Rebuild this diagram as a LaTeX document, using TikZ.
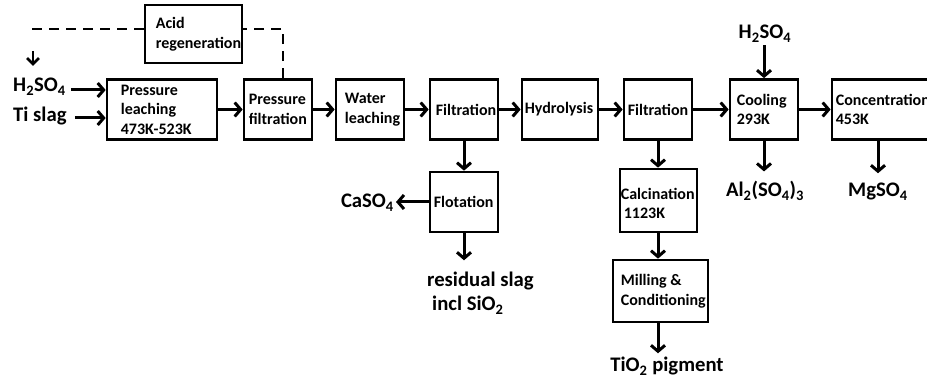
\documentclass[tikz,border=0pt]{standalone}
\usepackage{fontspec}
\setmainfont{Carlito}
\usetikzlibrary{arrows.meta}
\begin{document}
\begin{tikzpicture}[x=1pt,y=-1pt,
  box/.style={draw, line width=2.7pt, rectangle, inner sep=0pt},
  txt/.style={font=\fontsize{16}{19.5}\selectfont\bfseries, align=left, inner sep=0pt, anchor=west},
  lab/.style={font=\fontsize{20.7}{24}\selectfont\bfseries, inner sep=0pt},
  arr/.style={line width=3pt, -{Straight Barb[length=6pt,width=14pt]}},
  dsh/.style={line width=2.8pt, dash pattern=on 10pt off 7pt}
]
\useasboundingbox (0,0) rectangle (927,387);
\clip (0,0) rectangle (927,387);

% boxes
\node[box, minimum width=97pt, minimum height=58pt] (acid) at (193.5,34) {};
\node[txt] (acidt) at ([xshift=12pt]acid.west) {Acid\\regeneration};
\node[box, minimum width=110pt, minimum height=60pt] (pl) at (162,109.5) {};
\node[txt] (plt) at ([xshift=15pt]pl.west) {Pressure\\leaching\\473K-523K};
\node[box, minimum width=68pt, minimum height=60pt] (pf) at (278,109.5) {};
\node[txt] (pft) at ([xshift=6pt]pf.west) {Pressure\\filtration};
\node[box, minimum width=68pt, minimum height=60pt] (wl) at (370,109.5) {};
\node[txt] (wlt) at ([xshift=10pt]wl.west) {Water\\leaching};
\node[box, minimum width=68pt, minimum height=60pt] (f1) at (464,109.5) {};
\node[txt] (f1t) at ([xshift=7pt]f1.west) {Filtration};
\node[box, minimum width=76pt, minimum height=60pt] (hy) at (560,109.5) {};
\node[txt] (hyt) at ([xshift=4pt]hy.west) {Hydrolysis};
\node[box, minimum width=68pt, minimum height=60pt] (f2) at (658,109.5) {};
\node[txt] (f2t) at ([xshift=5pt]f2.west) {Filtration};
\node[box, minimum width=68pt, minimum height=60pt] (co) at (764,109.5) {};
\node[txt] (cot) at ([xshift=8pt]co.west) {Cooling\\293K};
\node[box, minimum width=118pt, minimum height=60pt] (cc) at (891,109.5) {};
\node[txt] (cct) at ([xshift=5pt]cc.west) {Concentration\\453K};
\node[box, minimum width=68pt, minimum height=60pt] (fl) at (464,202) {};
\node[txt] (flt) at ([xshift=5pt]fl.west) {Flotation};
\node[box, minimum width=77pt, minimum height=63pt] (ca) at (658.5,200.5) {};
\node[txt] (cat) at ([shift={(2,3)}]ca.west) {Calcination\\\hspace{3pt}1123K};
\node[box, minimum width=95pt, minimum height=62pt] (mi) at (660.5,291) {};
\node[txt] (mit) at ([xshift=9pt]mi.west) {Milling \&\\Conditioning};

% labels
\node[lab, anchor=base west] (h1) at (13,92) {H\textsubscript{2}SO\textsubscript{4}};
\node[lab, anchor=base west] (ts) at (13,122) {Ti slag};
\node[lab, anchor=base] (h2) at (765,39) {H\textsubscript{2}SO\textsubscript{4}};
\node[lab, anchor=base] (al) at (765,197) {Al\textsubscript{2}(SO\textsubscript{4})\textsubscript{3}};
\node[lab, anchor=base] (mg) at (878,197) {MgSO\textsubscript{4}};
\node[lab, anchor=base east] (cs) at (394,208) {CaSO\textsubscript{4}};
\node[lab, anchor=base west] (rs1) at (427,287) {residual slag};
\node[lab, anchor=base west] (rs2) at (432,311) {incl SiO\textsubscript{2}};
\node[lab, anchor=base] (ti) at (667,372) {TiO\textsubscript{2} pigment};

% main row arrows
\draw[arr] ([shift={(5,-2)}]h1.base east) coordinate (a1) -- (a1 -| pl.west);
\draw[arr] ([shift={(8,-4)}]ts.base east) coordinate (a2) -- (a2 -| pl.west);
\draw[arr] (pl.east) -- (pf.west);
\draw[arr] (pf.east) -- (wl.west);
\draw[arr] (wl.east) -- (f1.west);
\draw[arr] (f1.east) -- (hy.west);
\draw[arr] (hy.east) -- (f2.west);
\draw[arr] (f2.east) -- (co.west);
\draw[arr] (co.east) -- (cc.west);

% vertical arrows
\draw[arr, shorten <=3pt] (h2.south -| co.north) -- (co.north);
\draw[arr, shorten >=10pt] (co.south) -- (co.south |- al.north);
\draw[arr, shorten >=10pt] (mg.north |- cc.south) -- (mg.north);
\draw[arr] (f1.south) -- (fl.north);
\draw[arr, shorten >=2pt] (fl.west) -- (fl.west -| cs.east);
\draw[arr, shorten >=12pt] (fl.south) -- (fl.south |- rs1.north);
\draw[arr] (f2.south) -- (f2.south |- ca.north);
\draw[arr] (f2.south |- ca.south) -- (f2.south |- mi.north);
\draw[arr, shorten >=4pt] (f2.south |- mi.south) -- (f2.south |- ti.north);

% dashed recycle loop
\coordinate (dtip) at (33,66);
\draw[dsh] ([yshift=5pt]acid.west) -| ([yshift=30pt]dtip);
\draw[line width=2.8pt, -{Straight Barb[length=6pt,width=12pt]}] ([yshift=15pt]dtip) -- (dtip);
\draw[dsh] ([xshift=5pt]pf.north) |- ([yshift=5pt]acid.east);
\end{tikzpicture}
\end{document}
